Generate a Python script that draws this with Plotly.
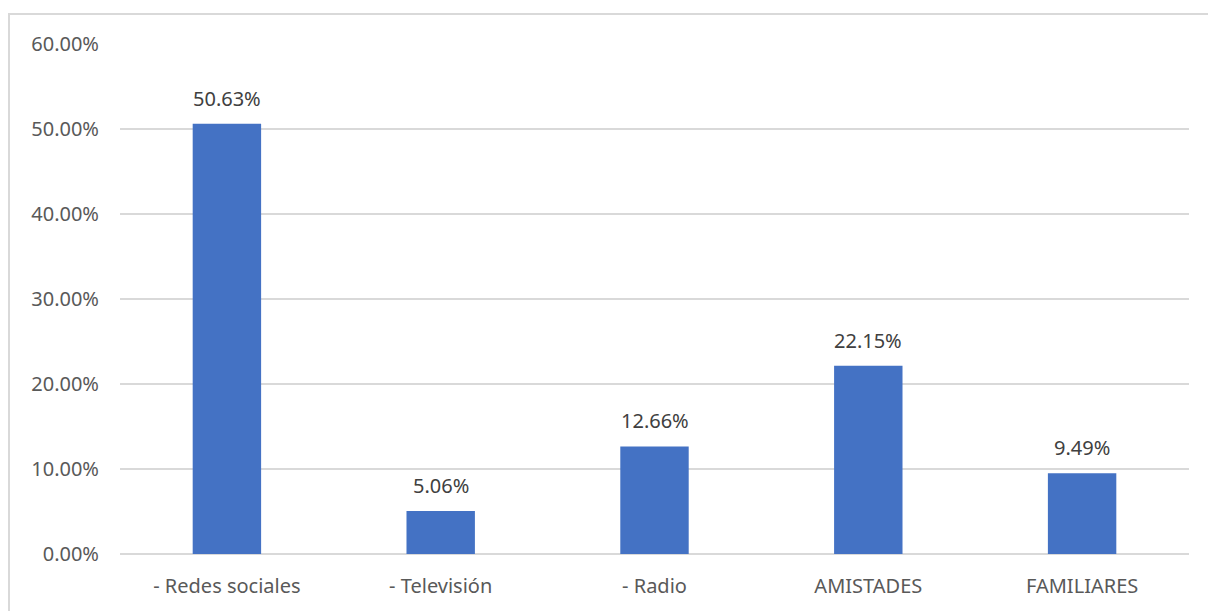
import plotly.graph_objects as go

categories = ["- Redes sociales", "- Televisión", "- Radio", "AMISTADES", "FAMILIARES"]
values = [50.63, 5.06, 12.66, 22.15, 9.49]
tick_vals = [0, 10, 20, 30, 40, 50, 60]
tick_text = [f"{v:.2f}%" for v in tick_vals]

W, H = 1208, 611
ml, mr, mt, mb = 120, 19, 44, 55
pw = W - ml - mr
ph = H - mt - mb
FONT = "Noto Sans"

fig = go.Figure(go.Bar(
    x=categories, y=values,
    marker=dict(color="#4472C4", line=dict(width=0)),
    hoverinfo="x+y",
))

for c, v in zip(categories, values):
    fig.add_annotation(x=c, y=v, text=f"{v:.2f}%", showarrow=False,
                       yanchor="bottom", yshift=10,
                       font=dict(family=FONT, size=20, color="#404040"))

fig.update_layout(
    width=W, height=H,
    margin=dict(l=ml, r=mr, t=mt, b=mb),
    paper_bgcolor="white", plot_bgcolor="white",
    bargap=0.68,
    showlegend=False,
    font=dict(family=FONT, color="#595959", size=20),
    xaxis=dict(showgrid=False, showline=False, ticks="",
               tickfont=dict(size=20, color="#595959")),
    yaxis=dict(range=[0, 60], tickvals=tick_vals, ticktext=tick_text,
               gridcolor="#D9D9D9", gridwidth=1.5, zeroline=True, zerolinecolor="#D9D9D9",
               zerolinewidth=1.5, showline=False, ticks="",
               tickfont=dict(size=20, color="#595959")),
    shapes=[dict(type="rect", xref="paper", yref="paper",
                 x0=(9 - ml) / pw, x1=(W + 20 - ml) / pw,
                 y0=-(H - 556 + 20) / ph, y1=(556 - 14) / ph,
                 line=dict(color="#D9D9D9", width=2), fillcolor="rgba(0,0,0,0)", layer="below")],
)
fig.update_xaxes(ticklabelstandoff=18)
fig.update_yaxes(ticklabelstandoff=20)
fig.write_html("out.html")
